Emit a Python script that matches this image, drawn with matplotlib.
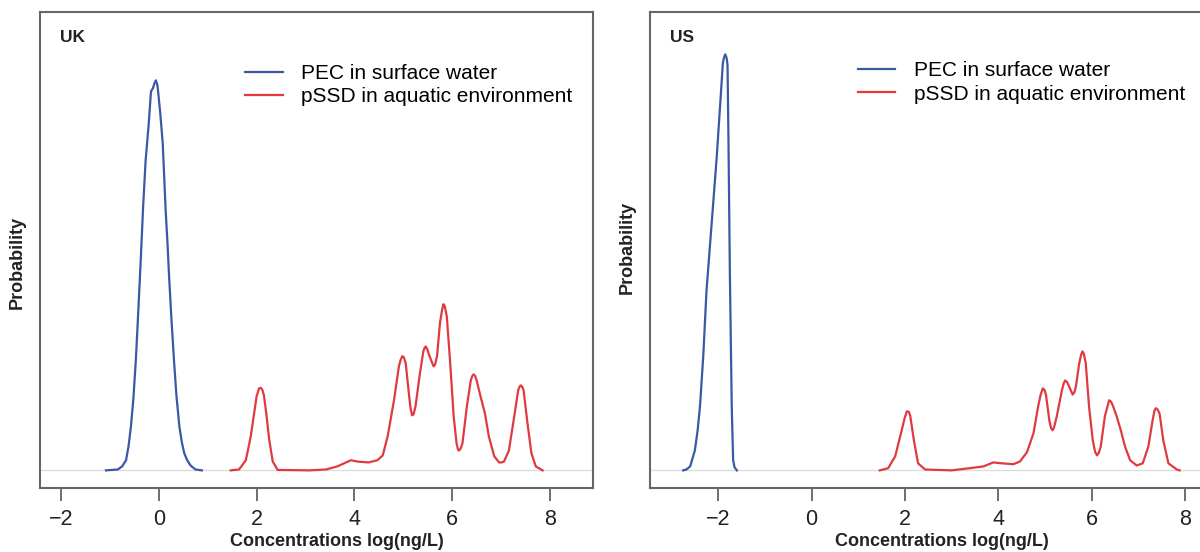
import numpy as np
import matplotlib
matplotlib.use("Agg")
from matplotlib import pyplot as plt

plt.rcParams['font.family'] = ['Liberation Sans', 'DejaVu Sans']

# density curves (x in log(ng/L), y in relative density)
uk_pec_x = [-1.08, -0.84, -0.75, -0.67, -0.62, -0.57, -0.52, -0.47, -0.42, -0.37, -0.32, -0.27, -0.21,
            -0.16, -0.12, -0.09, -0.06, -0.03, -0.01, 0.03, 0.08, 0.14, 0.18, 0.21, 0.26, 0.31, 0.36,
            0.42, 0.47, 0.52, 0.58, 0.65, 0.75, 0.88]
uk_pec_y = [0.0, 0.002, 0.009, 0.023, 0.054, 0.100, 0.163, 0.250, 0.360, 0.477, 0.600, 0.703, 0.781,
            0.860, 0.867, 0.878, 0.885, 0.875, 0.855, 0.810, 0.742, 0.590, 0.510, 0.440, 0.340, 0.250, 0.170,
            0.100, 0.064, 0.039, 0.023, 0.011, 0.002, 0.0]

uk_pssd_x = [1.47, 1.64, 1.78, 1.88, 1.97, 2.00, 2.05, 2.09, 2.12, 2.15, 2.19, 2.26, 2.33, 2.43, 3.07,
             3.42, 3.65, 3.79, 3.93, 4.06, 4.29, 4.47, 4.58, 4.68, 4.81, 4.91, 4.95, 4.98, 5.01, 5.05,
             5.12, 5.15, 5.18, 5.21, 5.25, 5.34, 5.41, 5.44, 5.46, 5.49, 5.53, 5.62, 5.65, 5.69, 5.75,
             5.79, 5.82, 5.85, 5.89, 5.96, 6.03, 6.09, 6.12, 6.14, 6.17, 6.21, 6.30, 6.38, 6.41, 6.44,
             6.47, 6.50, 6.58, 6.67, 6.75, 6.86, 6.96, 7.01, 7.06, 7.16, 7.27, 7.35, 7.38, 7.40, 7.43,
             7.46, 7.54, 7.62, 7.71, 7.85]
uk_pssd_y = [0.0, 0.002, 0.023, 0.077, 0.145, 0.168, 0.186, 0.187, 0.182, 0.170, 0.136, 0.068, 0.020, 0.001, 0.0,
             0.002, 0.009, 0.016, 0.023, 0.020, 0.018, 0.023, 0.034, 0.077, 0.159, 0.236, 0.252, 0.259, 0.257, 0.243,
             0.168, 0.140, 0.125, 0.127, 0.145, 0.220, 0.270, 0.279, 0.281, 0.275, 0.261, 0.236, 0.240, 0.259, 0.334,
             0.362, 0.377, 0.372, 0.349, 0.243, 0.123, 0.061, 0.047, 0.045, 0.049, 0.061, 0.145, 0.204, 0.214, 0.218,
             0.214, 0.204, 0.168, 0.129, 0.077, 0.032, 0.018, 0.018, 0.020, 0.045, 0.123, 0.182, 0.190, 0.193, 0.190,
             0.182, 0.107, 0.039, 0.009, 0.0]

us_pec_x = [-2.75, -2.68, -2.60, -2.50, -2.44, -2.39, -2.32, -2.25, -2.14, -2.03, -1.96, -1.90, -1.88,
            -1.85, -1.82, -1.80, -1.78, -1.75, -1.71, -1.68, -1.65, -1.60]
us_pec_y = [0.0, 0.002, 0.009, 0.045, 0.091, 0.145, 0.259, 0.408, 0.560, 0.713, 0.826, 0.924, 0.935,
            0.944, 0.936, 0.920, 0.749, 0.447, 0.145, 0.023, 0.007, 0.0]

us_pssd_x = [1.46, 1.64, 1.79, 1.93, 1.99, 2.04, 2.08, 2.11, 2.19, 2.28, 2.43, 3.00, 3.39, 3.68, 3.89,
             4.07, 4.32, 4.46, 4.61, 4.75, 4.85, 4.90, 4.95, 4.99, 5.02, 5.09, 5.13, 5.16, 5.19, 5.25,
             5.36, 5.40, 5.43, 5.47, 5.51, 5.59, 5.63, 5.66, 5.73, 5.77, 5.80, 5.83, 5.87, 5.94, 6.02,
             6.07, 6.11, 6.15, 6.19, 6.28, 6.37, 6.41, 6.45, 6.53, 6.62, 6.71, 6.82, 6.96, 7.09, 7.21,
             7.30, 7.34, 7.37, 7.41, 7.45, 7.53, 7.64, 7.82, 7.88]
us_pssd_y = [0.0, 0.005, 0.032, 0.091, 0.118, 0.134, 0.133, 0.125, 0.068, 0.016, 0.002, 0.0, 0.005, 0.009, 0.018,
             0.016, 0.014, 0.020, 0.041, 0.084, 0.145, 0.170, 0.186, 0.182, 0.170, 0.113, 0.095, 0.091, 0.097, 0.123,
             0.182, 0.198, 0.204, 0.200, 0.191, 0.172, 0.178, 0.191, 0.243, 0.262, 0.270, 0.264, 0.243, 0.145, 0.068,
             0.042, 0.034, 0.040, 0.054, 0.123, 0.159, 0.156, 0.147, 0.123, 0.091, 0.054, 0.023, 0.011, 0.016, 0.054,
             0.113, 0.135, 0.141, 0.138, 0.129, 0.068, 0.016, 0.002, 0.0]

labels = ["PEC in surface water", "pSSD in aquatic environment"]
blue = "#3b58a5"
red = "#e03a40"

fig = plt.figure(figsize=(12, 5.52), dpi=100)
ax1 = fig.add_axes([40 / 1200, 64 / 552, 553 / 1200, 476 / 552])
ax2 = fig.add_axes([650 / 1200, 64 / 552, 553 / 1200, 476 / 552])

panels = [
    (ax1, "UK", uk_pec_x, uk_pec_y, uk_pssd_x, uk_pssd_y, (-2.43, 8.88), (0.371, 0.891), 0.537, 0.473),
    (ax2, "US", us_pec_x, us_pec_y, us_pssd_x, us_pssd_y, (-3.46, 8.38), (0.376, 0.897), 0.528, 0.505),
]

for ax, name, px, py, sx, sy, xlim, legpos, xlab_x, ylab_y in panels:
    ax.axhline(0, color="#dddddd", lw=1, zorder=0)
    ax.plot(px, py, color=blue, lw=1.6, label=labels[0], solid_joinstyle="round")
    ax.plot(sx, sy, color=red, lw=1.6, label=labels[1], solid_joinstyle="round")
    ax.set_xlim(*xlim)
    ax.set_ylim(-0.04, 1.04)
    ax.set_xticks([-2, 0, 2, 4, 6, 8])
    ax.set_xticklabels(["\u22122", "0", "2", "4", "6", "8"])
    ax.set_yticks([])
    ax.tick_params(axis="x", direction="out", length=9, width=1.2, colors="#555555",
                   labelsize=15.5, labelcolor="#222222", pad=6)
    for s in ax.spines.values():
        s.set_color("#666666")
        s.set_linewidth(1.5)
    ax.set_xlabel("Concentrations log(ng/L)", fontsize=13, fontweight="bold", color="#222222")
    ax.set_ylabel("Probability", fontsize=13, fontweight="bold", color="#222222")
    ax.xaxis.set_label_coords(xlab_x, -0.095)
    ax.yaxis.set_label_coords(-0.025, ylab_y)
    ax.text(0.036, 0.947, name, transform=ax.transAxes, fontsize=12.5, fontweight="bold",
            color="#222222", va="center", ha="left")
    ax.legend(loc="upper left", bbox_to_anchor=legpos, frameon=False, fontsize=15,
              handlelength=1.8, handletextpad=0.87, labelspacing=0.22, borderpad=0,
              borderaxespad=0)

fig.savefig("out.png", dpi=100)
